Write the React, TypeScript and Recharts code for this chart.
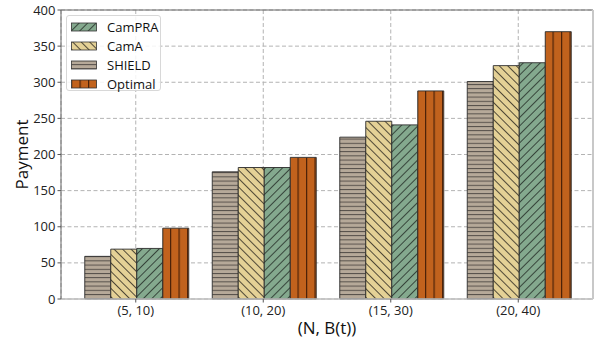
import { BarChart, Bar, XAxis, YAxis, CartesianGrid, ReferenceLine } from "recharts";

const categories = ["(5, 10)", "(10, 20)", "(15, 30)", "(20, 40)"];
const shieldValues = [59, 176, 224, 301];
const camAValues = [69, 182, 246, 323];
const camPRAValues = [70, 182, 241, 327];
const optimalValues = [98, 196, 288, 370];
const yTicks = [0, 50, 100, 150, 200, 250, 300, 350, 400];

const data = categories.map((cat, i) => ({
  cat,
  shield: shieldValues[i],
  camA: camAValues[i],
  camPRA: camPRAValues[i],
  optimal: optimalValues[i],
}));

// bar order in the groups
const series = [
  { key: "shield", name: "SHIELD", pattern: "pat-shield" },
  { key: "camA", name: "CamA", pattern: "pat-cama" },
  { key: "camPRA", name: "CamPRA", pattern: "pat-campra" },
  { key: "optimal", name: "Optimal", pattern: "pat-optimal" },
];

// legend order
const legendOrder = ["camPRA", "camA", "shield", "optimal"];

const FONT = "'Open Sans', 'Noto Sans', sans-serif";

function Patterns() {
  return (
    <defs>
      <pattern id="pat-shield" patternUnits="userSpaceOnUse" width="8" height="4.2">
        <rect width="8" height="4.2" fill="#b6a999" />
        <line x1="0" y1="0.5" x2="8" y2="0.5" stroke="#4a4540" strokeWidth="0.9" />
      </pattern>
      <pattern id="pat-cama" patternUnits="userSpaceOnUse" width="6" height="6" patternTransform="rotate(-45)">
        <rect width="6" height="6" fill="#e4d196" />
        <line x1="0.5" y1="0" x2="0.5" y2="6" stroke="#3f3a2c" strokeWidth="0.9" />
      </pattern>
      <pattern id="pat-campra" patternUnits="userSpaceOnUse" width="6" height="6" patternTransform="rotate(45)">
        <rect width="6" height="6" fill="#84a98e" />
        <line x1="0.5" y1="0" x2="0.5" y2="6" stroke="#2f3a32" strokeWidth="0.9" />
      </pattern>
      <pattern id="pat-optimal" patternUnits="userSpaceOnUse" width="8.5" height="8">
        <rect width="8.5" height="8" fill="#c1621d" />
        <line x1="0.6" y1="0" x2="0.6" y2="8" stroke="#4a2108" strokeWidth="1.2" />
      </pattern>
    </defs>
  );
}

function YLabel(props: any) {
  const cy = props.viewBox ? props.viewBox.y + props.viewBox.height / 2 : 155;
  return (
    <text
      x={21}
      y={cy}
      transform={`rotate(-90, 21, ${cy})`}
      textAnchor="middle"
      dominantBaseline="central"
      fontSize={17}
      fill="#111"
      fontFamily={FONT}
    >
      Payment
    </text>
  );
}

function XLabel(props: any) {
  const vb = props.viewBox || { x: 61, width: 532, y: 299 };
  return (
    <text
      x={vb.x + vb.width / 2}
      y={334}
      textAnchor="middle"
      fontSize={17}
      fill="#111"
      fontFamily={FONT}
    >
      (N, B(t))
    </text>
  );
}

function LegendBox() {
  return (
    <div
      style={{
        position: "absolute",
        left: 66,
        top: 15,
        width: 95,
        height: 76,
        boxSizing: "border-box",
        border: "1px solid #d8d8d8",
        borderRadius: 3,
        background: "rgba(255,255,255,0.85)",
        fontFamily: FONT,
        fontSize: 13,
        color: "#111",
      }}
    >
      {legendOrder.map((k, i) => {
        const s = series.find((x) => x.key === k)!;
        return (
          <div
            key={k}
            style={{
              position: "absolute",
              left: 4,
              top: 3 + i * 19,
              height: 16,
              display: "flex",
              alignItems: "center",
            }}
          >
            <svg width={26} height={10} style={{ display: "block" }}>
              <rect x={0.5} y={1} width={25} height={8} fill={`url(#${s.pattern})`} stroke="#333" strokeWidth={0.8} />
            </svg>
            <span style={{ marginLeft: 10, lineHeight: "16px" }}>{s.name}</span>
          </div>
        );
      })}
    </div>
  );
}

export default function App() {
  return (
    <div style={{ position: "relative", width: 598, height: 341, background: "#fff" }}>
      <style>{"body{margin:0;}"}</style>
      <BarChart
        width={598}
        height={341}
        data={data}
        margin={{ top: 10, right: 0, bottom: 0, left: 0 }}
        barCategoryGap="10%"
        barGap={0}
        style={{ fontFamily: FONT }}
      >
        <Patterns />
        <CartesianGrid stroke="#b3b3b3" strokeDasharray="4 2.5" strokeWidth={1} />
        <XAxis
          dataKey="cat"
          height={42}
          padding={{ left: 11, right: 11 }}
          axisLine={{ stroke: "#bdbdbd", strokeWidth: 1.5 }}
          tickLine={{ stroke: "#555" }}
          tickSize={3.5}
          tickMargin={3}
          tick={{ fill: "#222", fontSize: 13 }}
          label={<XLabel />}
        />
        <YAxis
          width={61}
          domain={[0, 400]}
          ticks={yTicks}
          interval={0}
          axisLine={{ stroke: "#666" }}
          tickLine={{ stroke: "#555" }}
          tickSize={3.5}
          tickMargin={2}
          tick={{ fill: "#222", fontSize: 13 }}
          label={<YLabel />}
        />
        <YAxis
          yAxisId="right"
          orientation="right"
          width={5}
          domain={[0, 400]}
          tick={false}
          tickLine={false}
          axisLine={{ stroke: "#c8c8c8", strokeWidth: 2 }}
        />
        <ReferenceLine y={400} stroke="#666" strokeWidth={1} />
        {series.map((s) => (
          <Bar
            key={s.key}
            dataKey={s.key}
            name={s.name}
            fill={`url(#${s.pattern})`}
            stroke="#2b2b2b"
            strokeWidth={0.9}
            isAnimationActive={false}
          />
        ))}
      </BarChart>
      <LegendBox />
    </div>
  );
}
